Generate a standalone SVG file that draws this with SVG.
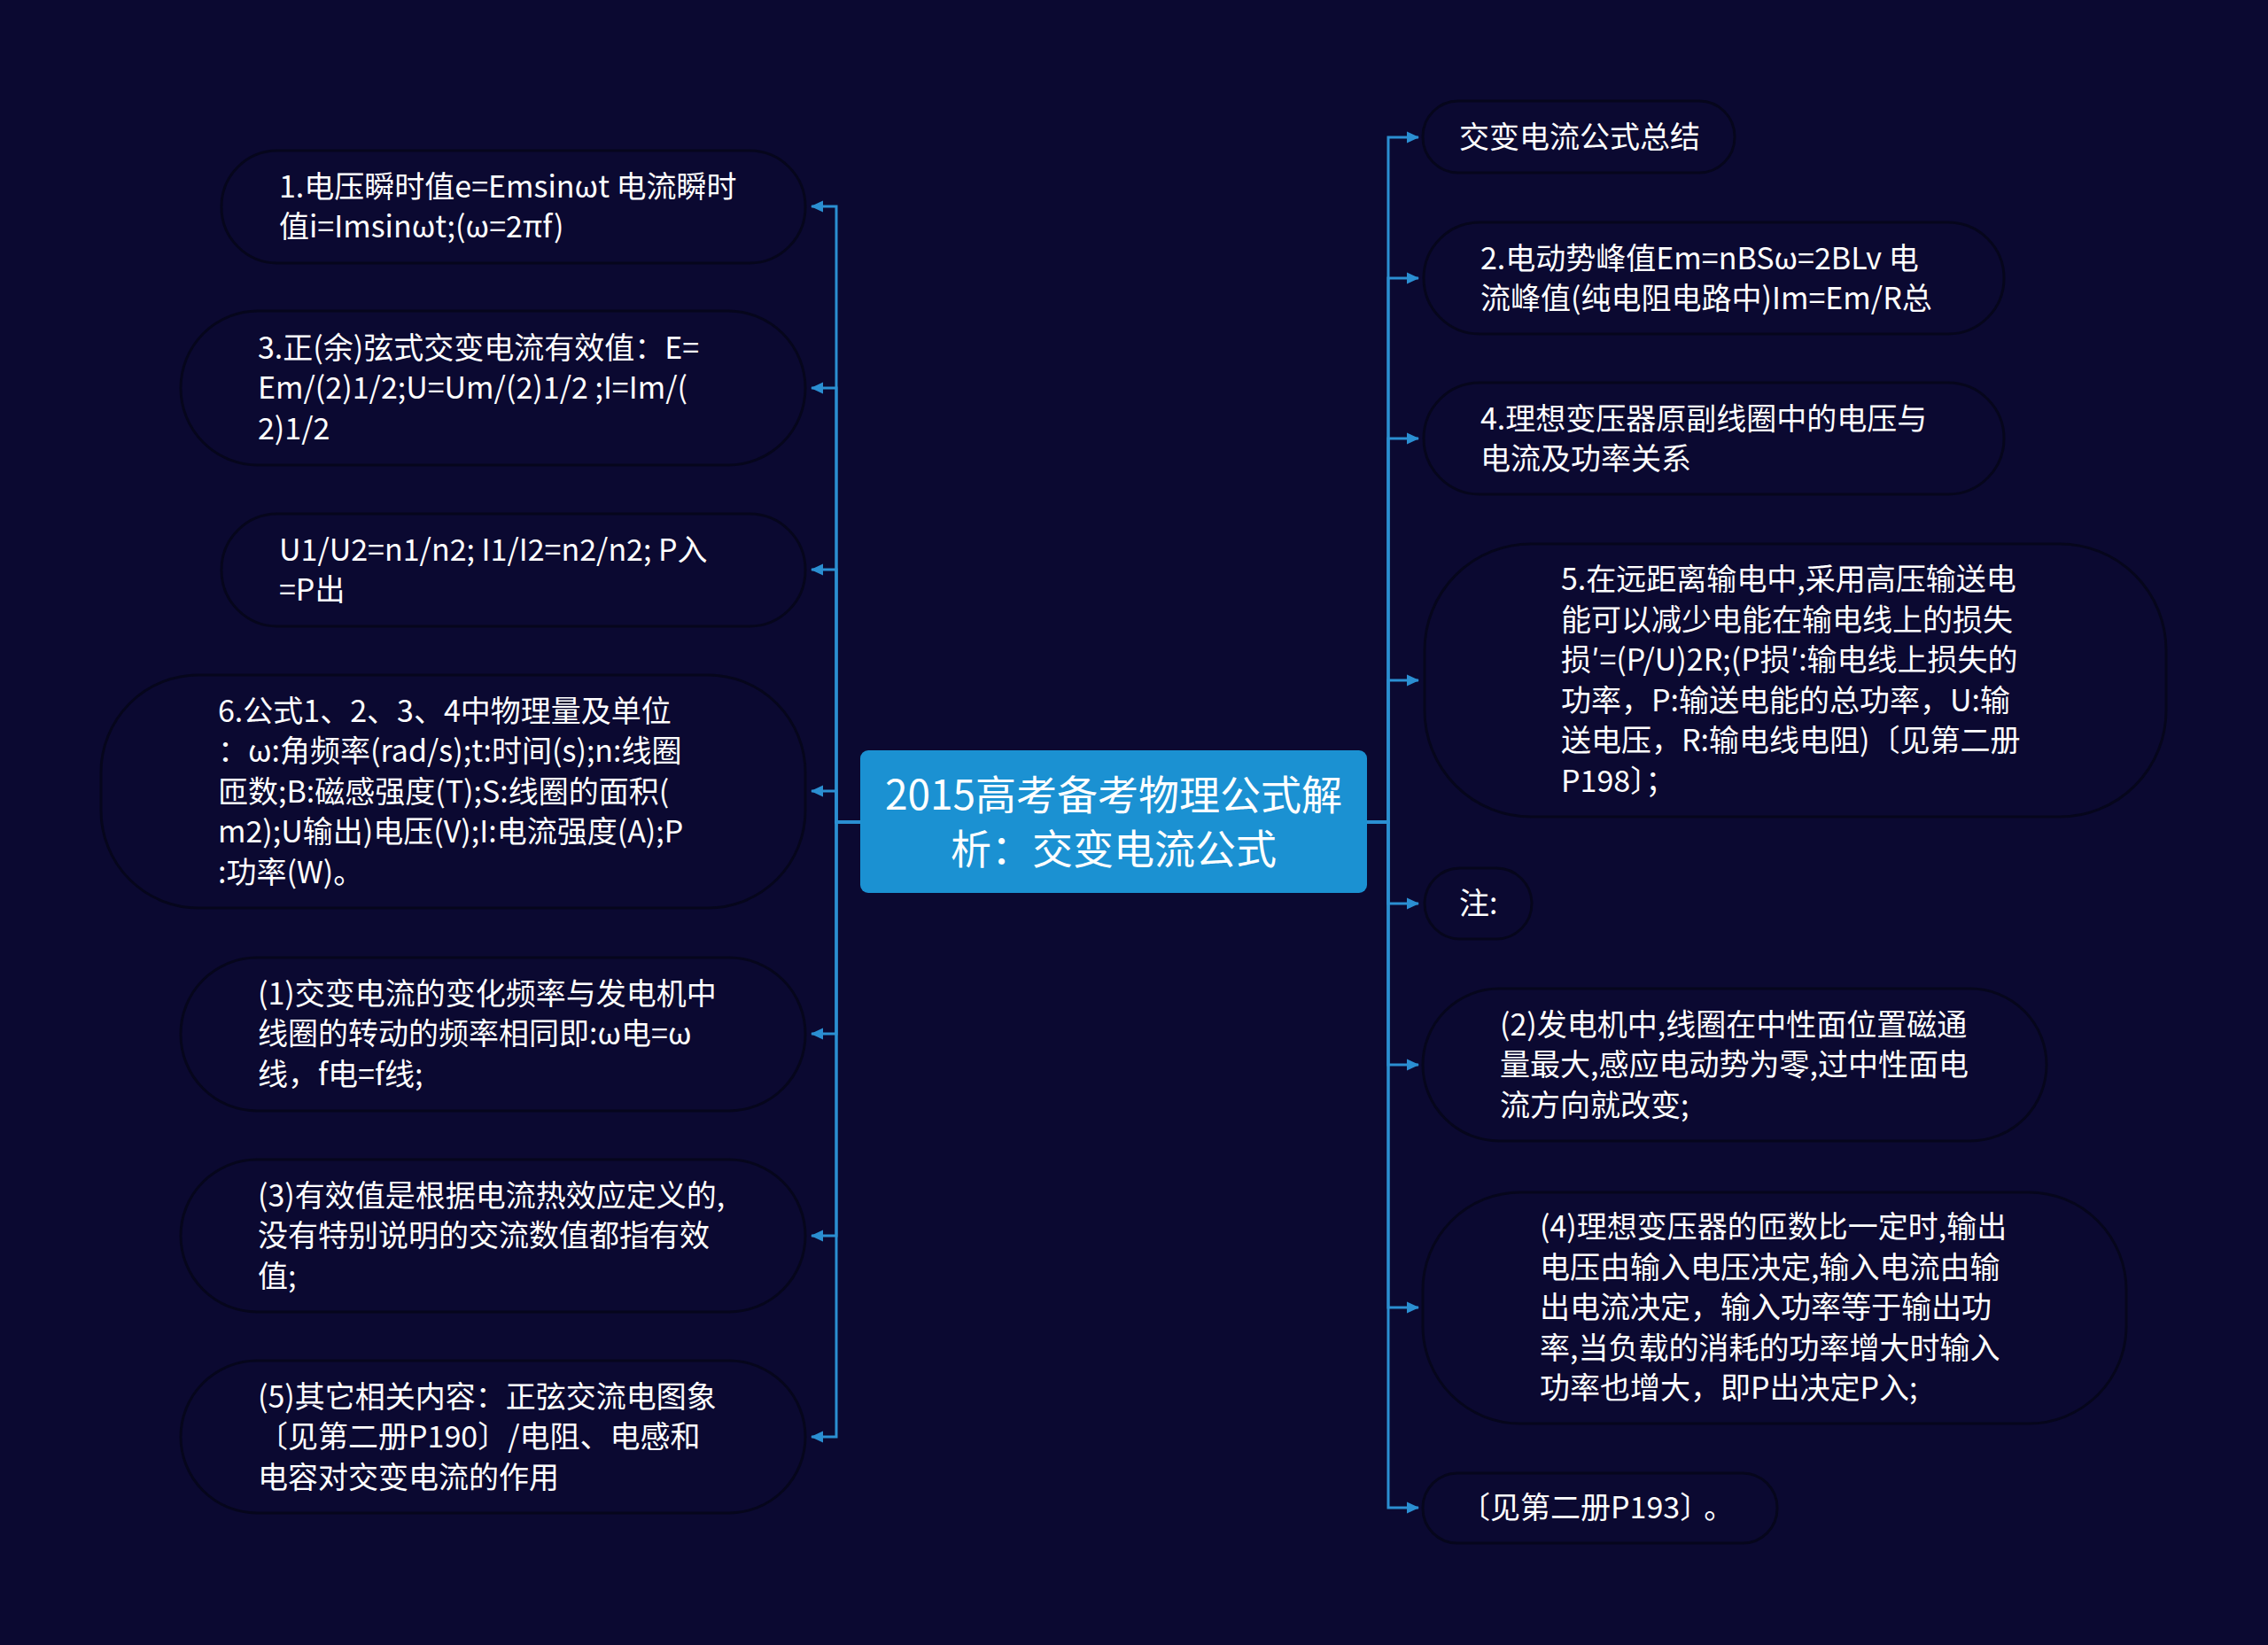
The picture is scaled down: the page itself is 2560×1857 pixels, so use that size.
<svg xmlns="http://www.w3.org/2000/svg" width="2560" height="1857" viewBox="0 0 2560 1857">
<defs>
<style>
.bg{fill:#0b0931}
.node{fill:#0b0931;stroke:#06061c;stroke-width:3}
.t{font-family:"Noto Sans CJK SC","Noto Sans",sans-serif;font-size:34px;fill:#ffffff;dominant-baseline:central}
.ct{font-family:"Noto Sans CJK SC","Noto Sans",sans-serif;font-size:46px;fill:#ffffff;dominant-baseline:central;text-anchor:middle}
.ln{fill:none;stroke:#2b8fd2;stroke-width:3}
</style>
<marker id="ah" viewBox="0 0 14 14" refX="13" refY="7" markerWidth="14" markerHeight="14" markerUnits="userSpaceOnUse" orient="auto">
<path d="M0 0.5 L14 7 L0 13.5 Z" fill="#2b8fd2"/>
</marker>
</defs>
<rect class="bg" x="0" y="0" width="2560" height="1857"/>

<g id="connectors">
<path class="ln" d="M971 928 H944 V233 H916" marker-end="url(#ah)"/>
<path class="ln" d="M971 928 H944 V438 H916" marker-end="url(#ah)"/>
<path class="ln" d="M971 928 H944 V643 H916" marker-end="url(#ah)"/>
<path class="ln" d="M971 928 H944 V893 H916" marker-end="url(#ah)"/>
<path class="ln" d="M971 928 H944 V1167 H916" marker-end="url(#ah)"/>
<path class="ln" d="M971 928 H944 V1395 H916" marker-end="url(#ah)"/>
<path class="ln" d="M971 928 H944 V1622 H916" marker-end="url(#ah)"/>
<path class="ln" d="M1543 928 H1567 V155 H1601" marker-end="url(#ah)"/>
<path class="ln" d="M1543 928 H1567 V314 H1601" marker-end="url(#ah)"/>
<path class="ln" d="M1543 928 H1567 V495 H1601" marker-end="url(#ah)"/>
<path class="ln" d="M1543 928 H1567 V768 H1601" marker-end="url(#ah)"/>
<path class="ln" d="M1543 928 H1567 V1020 H1601" marker-end="url(#ah)"/>
<path class="ln" d="M1543 928 H1567 V1202 H1601" marker-end="url(#ah)"/>
<path class="ln" d="M1543 928 H1567 V1476 H1601" marker-end="url(#ah)"/>
<path class="ln" d="M1543 928 H1567 V1702 H1601" marker-end="url(#ah)"/>
</g>

<g id="center">
<rect x="971" y="847" width="572" height="161" rx="9" fill="#1b91d2"/>
<text class="ct"><tspan x="1257" y="894">2015高考备考物理公式解</tspan><tspan x="1257" y="955">析：交变电流公式</tspan></text>
</g>

<g id="L1">
<rect class="node" x="250" y="170" width="659" height="127" rx="63" ry="63"/>
<text class="t"><tspan x="315" y="207.5">1.电压瞬时值e=Emsinωt 电流瞬时</tspan><tspan x="315" y="253">值i=Imsinωt;(ω=2πf)</tspan></text>
</g>
<g id="L2">
<rect class="node" x="204" y="351" width="705" height="174" rx="87" ry="87"/>
<text class="t"><tspan x="291" y="389.5">3.正(余)弦式交变电流有效值：E=</tspan><tspan x="291" y="435">Em/(2)1/2;U=Um/(2)1/2 ;I=Im/(</tspan><tspan x="291" y="480.5">2)1/2</tspan></text>
</g>
<g id="L3">
<rect class="node" x="250" y="580" width="659" height="127" rx="63" ry="63"/>
<text class="t"><tspan x="315" y="617.5">U1/U2=n1/n2; I1/I2=n2/n2; P入</tspan><tspan x="315" y="663">=P出</tspan></text>
</g>
<g id="L4">
<rect class="node" x="114" y="762" width="795" height="263" rx="110" ry="110"/>
<text class="t"><tspan x="246" y="799.5">6.公式1、2、3、4中物理量及单位</tspan><tspan x="246" y="845">：ω:角频率(rad/s);t:时间(s);n:线圈</tspan><tspan x="246" y="890.5">匝数;B:磁感强度(T);S:线圈的面积(</tspan><tspan x="246" y="936">m2);U输出)电压(V);I:电流强度(A);P</tspan><tspan x="246" y="981.5">:功率(W)。</tspan></text>
</g>
<g id="L5">
<rect class="node" x="204" y="1081" width="705" height="173" rx="86" ry="86"/>
<text class="t"><tspan x="291" y="1118.5">(1)交变电流的变化频率与发电机中</tspan><tspan x="291" y="1164">线圈的转动的频率相同即:ω电=ω</tspan><tspan x="291" y="1209.5">线，f电=f线;</tspan></text>
</g>
<g id="L6">
<rect class="node" x="204" y="1309" width="705" height="172" rx="86" ry="86"/>
<text class="t"><tspan x="291" y="1346.5">(3)有效值是根据电流热效应定义的,</tspan><tspan x="291" y="1392">没有特别说明的交流数值都指有效</tspan><tspan x="291" y="1437.5">值;</tspan></text>
</g>
<g id="L7">
<rect class="node" x="204" y="1536" width="705" height="172" rx="86" ry="86"/>
<text class="t"><tspan x="291" y="1573.5">(5)其它相关内容：正弦交流电图象</tspan><tspan x="291" y="1619">〔见第二册P190〕/电阻、电感和</tspan><tspan x="291" y="1664.5">电容对交变电流的作用</tspan></text>
</g>

<g id="R1">
<rect class="node" x="1606" y="114" width="352" height="81" rx="40" ry="40"/>
<text class="t"><tspan x="1647" y="152">交变电流公式总结</tspan></text>
</g>
<g id="R2">
<rect class="node" x="1607" y="251" width="655" height="126" rx="63" ry="63"/>
<text class="t"><tspan x="1671" y="288.5">2.电动势峰值Em=nBSω=2BLv 电</tspan><tspan x="1671" y="334">流峰值(纯电阻电路中)Im=Em/R总</tspan></text>
</g>
<g id="R3">
<rect class="node" x="1607" y="432" width="655" height="126" rx="63" ry="63"/>
<text class="t"><tspan x="1671" y="469.5">4.理想变压器原副线圈中的电压与</tspan><tspan x="1671" y="515">电流及功率关系</tspan></text>
</g>
<g id="R4">
<rect class="node" x="1608" y="614" width="837" height="308" rx="120" ry="120"/>
<text class="t"><tspan x="1762" y="651.25">5.在远距离输电中,采用高压输送电</tspan><tspan x="1762" y="696.75">能可以减少电能在输电线上的损失</tspan><tspan x="1762" y="742.25">损′=(P/U)2R;(P损′:输电线上损失的</tspan><tspan x="1762" y="787.75">功率，P:输送电能的总功率，U:输</tspan><tspan x="1762" y="833.25">送电压，R:输电线电阻)〔见第二册</tspan><tspan x="1762" y="878.75">P198〕；</tspan></text>
</g>
<g id="R5">
<rect class="node" x="1608" y="980" width="121" height="80" rx="40" ry="40"/>
<text class="t"><tspan x="1647" y="1017">注:</tspan></text>
</g>
<g id="R6">
<rect class="node" x="1606" y="1116" width="704" height="172" rx="86" ry="86"/>
<text class="t"><tspan x="1693" y="1153.5">(2)发电机中,线圈在中性面位置磁通</tspan><tspan x="1693" y="1199">量最大,感应电动势为零,过中性面电</tspan><tspan x="1693" y="1244.5">流方向就改变;</tspan></text>
</g>
<g id="R7">
<rect class="node" x="1606" y="1346" width="794" height="261" rx="110" ry="110"/>
<text class="t"><tspan x="1738" y="1382">(4)理想变压器的匝数比一定时,输出</tspan><tspan x="1738" y="1427.5">电压由输入电压决定,输入电流由输</tspan><tspan x="1738" y="1473">出电流决定，输入功率等于输出功</tspan><tspan x="1738" y="1518.5">率,当负载的消耗的功率增大时输入</tspan><tspan x="1738" y="1564">功率也增大，即P出决定P入;</tspan></text>
</g>
<g id="R8">
<rect class="node" x="1606" y="1663" width="400" height="79" rx="39" ry="39"/>
<text class="t"><tspan x="1648" y="1699">〔见第二册P193〕<tspan dx="10">。</tspan></tspan></text>
</g>
</svg>
